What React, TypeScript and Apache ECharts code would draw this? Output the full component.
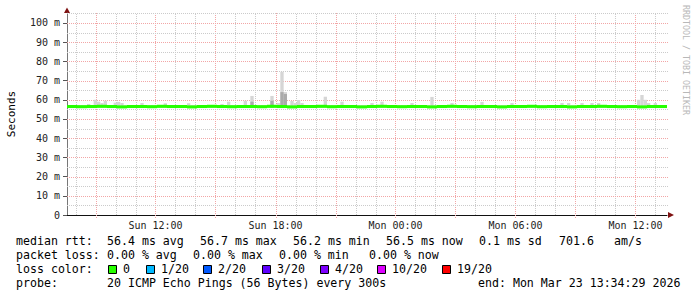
import React, { useEffect, useRef } from 'react';
import * as echarts from 'echarts';

// ---- time range (hours since Sun 00:00) ----
const START_HOUR = 7.575; // Sun 07:34:29
const END_HOUR = 37.575; // Mon 13:34:29
const Y_MAX = 105.2;

// ---- axis ticks ----
const xTickHours = [12, 18, 24, 30, 36];
const xTickLabels = ['Sun 12:00', 'Sun 18:00', 'Mon 00:00', 'Mon 06:00', 'Mon 12:00'];
const yTickValues = [0, 10, 20, 30, 40, 50, 60, 70, 80, 90, 100];
const yTickLabels = ['0', '10 m', '20 m', '30 m', '40 m', '50 m', '60 m', '70 m', '80 m', '90 m', '100 m'];

// ---- smoke (max ping per 10 min bin, ms) ----
const SMOKE_STEP = 1 / 6;
const SMOKE_FLOOR = 55.9;
const smokeTop = [
  57.2, 57.2, 57.2, 57.2, 57.2, 57.2, 57.8, 57.2, 60.0, 59.0, 58.3, 59.5, 57.2, 57.2, 58.5, 58.9, 58.3, 57.2, 57.2, 57.2,
  57.2, 57.2, 58.3, 57.2, 57.2, 57.2, 57.2, 57.2, 57.2, 58.2, 57.2, 57.2, 57.2, 57.2, 57.2, 57.2, 58.2, 57.2, 57.2, 57.2,
  57.2, 57.2, 57.2, 57.2, 57.2, 57.2, 57.8, 57.2, 59.0, 57.2, 57.2, 57.2, 57.2, 59.5, 57.2, 62.0, 57.2, 57.2, 57.2, 57.2,
  57.2, 62.0, 57.2, 58.3, 74.6, 64.0, 57.2, 59.4, 58.3, 59.9, 58.3, 57.2, 57.2, 57.2, 57.2, 57.2, 57.2, 61.6, 57.2, 57.2,
  57.2, 57.2, 59.0, 57.2, 57.2, 57.2, 57.2, 57.2, 57.2, 57.2, 57.2, 58.3, 57.2, 57.2, 59.0, 57.2, 57.2, 57.2, 57.2, 57.2,
  57.2, 57.2, 57.2, 58.3, 57.2, 57.2, 57.2, 57.2, 57.2, 61.5, 57.2, 57.2, 57.2, 57.2, 57.2, 58.3, 57.2, 57.2, 57.2, 57.2,
  57.2, 57.2, 57.2, 57.2, 58.9, 57.2, 57.2, 57.2, 57.2, 57.2, 57.2, 57.2, 57.2, 58.3, 57.2, 57.2, 57.2, 57.2, 57.2, 57.2,
  57.2, 57.2, 57.2, 57.2, 57.2, 57.2, 57.2, 57.2, 58.3, 57.2, 58.3, 57.2, 57.2, 57.2, 58.3, 57.2, 57.2, 58.3, 57.2, 58.3,
  57.2, 57.2, 57.2, 57.2, 57.2, 57.2, 57.2, 57.2, 57.2, 57.2, 57.2, 60.0, 62.5, 60.0, 58.3, 57.2, 58.3, 57.2, 57.2, 57.2,
];
// darker smoke core: [bin index, top]
const smokeCore: [number, number][] = [
  [64, 64.0],
  [65, 63.0],
  [55, 59.0],
  [61, 59.5],
];

// ---- median rtt per 30 min bin (ms) ----
const MEDIAN_STEP = 0.5;
const MEDIAN_HALF = 0.8;
const median = [
  56.5, 56.4, 56.5, 56.6, 56.5, 56.3, 56.5, 56.5, 56.4, 56.6,
  56.5, 56.5, 56.3, 56.5, 56.6, 56.5, 56.4, 56.5, 56.5, 56.4,
  56.6, 56.5, 56.3, 56.5, 56.5, 56.6, 56.4, 56.5, 56.5, 56.3,
  56.5, 56.6, 56.5, 56.4, 56.5, 56.5, 56.3, 56.5, 56.6, 56.5,
  56.4, 56.5, 56.5, 56.3, 56.5, 56.5, 56.6, 56.4, 56.5, 56.5,
  56.3, 56.5, 56.5, 56.6, 56.5, 56.4, 56.5, 56.3, 56.5, 56.5,
];

// ---- legend ----
const rttLine = ['median rtt:', '56.4 ms avg', '56.7 ms max', '56.2 ms min', '56.5 ms now', '0.1 ms sd', '701.6', 'am/s'];
const rttX = [16, 107, 200, 293, 386, 479, 559, 614];
const lossLine = ['packet loss:', '0.00 % avg', '0.00 % max', '0.00 % min', '0.00 % now'];
const lossX = [16, 107, 193, 279, 369];
const lossLabels = ['0', '1/20', '2/20', '3/20', '4/20', '10/20', '19/20'];
const lossColors = ['#26ff00', '#00b8ff', '#0059ff', '#5e00ff', '#7e00ff', '#dd00ff', '#ff0000'];
const lossBoxX = [108, 146, 203, 262, 320, 377, 442];
const probeText = '20 ICMP Echo Pings (56 Bytes) every 300s';
const endText = 'end: Mon Mar 23 13:34:29 2026';

const MONO = '"DejaVu Sans Mono", "Liberation Mono", monospace';

export default function App() {
  const ref = useRef<HTMLDivElement>(null);

  useEffect(() => {
    document.body.style.margin = '0';
    if (!ref.current) return;
    const chart = echarts.init(ref.current, undefined, { renderer: 'svg' });

    const vGrid: number[][] = [];
    for (let h = Math.ceil(START_HOUR); h <= END_HOUR; h++) vGrid.push([h, h % 3 === 0 ? 1 : 0]);
    const hGrid: number[][] = [];
    for (let v = 5; v <= Y_MAX; v += 5) hGrid.push([v, v % 10 === 0 ? 1 : 0]);

    const smokeData = smokeTop.map((v, j) => [START_HOUR + (j + 0.5) * SMOKE_STEP, SMOKE_FLOOR, v]);
    const coreData = smokeCore.map(([j, v]) => [START_HOUR + (j + 0.5) * SMOKE_STEP, SMOKE_FLOOR, v]);
    const medianData = median.map((v, k) => [START_HOUR + (k + 0.5) * MEDIAN_STEP, v - MEDIAN_HALF, v + MEDIAN_HALF]);

    const rectSeries = (name: string, data: number[][], step: number, fill: string, z: number) => ({
      type: 'custom',
      name,
      z,
      data,
      renderItem: (_p: any, api: any) => {
        const t = api.value(0);
        const a = api.coord([t - step / 2, api.value(2)]);
        const b = api.coord([t + step / 2, api.value(1)]);
        return {
          type: 'rect',
          shape: { x: a[0], y: a[1], width: b[0] - a[0], height: b[1] - a[1] },
          style: { fill },
        };
      },
    });

    const graphic: any[] = [];
    const txt = (x: number, y: number, text: string) =>
      graphic.push({
        type: 'text',
        x,
        y,
        style: { text, font: `11.6px ${MONO}`, fill: '#000', verticalAlign: 'middle', align: 'left' },
      });
    rttLine.forEach((s, i) => txt(rttX[i], 241, s));
    lossLine.forEach((s, i) => txt(lossX[i], 255, s));
    txt(16, 269, 'loss color:');
    lossLabels.forEach((s, i) => {
      graphic.push({
        type: 'rect',
        shape: { x: lossBoxX[i] + 0.5, y: 265.5, width: 8, height: 8 },
        style: { fill: lossColors[i], stroke: '#000', lineWidth: 1 },
      });
      txt(lossBoxX[i] + 15, 269, s);
    });
    txt(16, 283, 'probe:');
    txt(107, 283, probeText);
    txt(478, 283, endText);
    graphic.push({
      type: 'text',
      x: 11,
      y: 114,
      rotation: Math.PI / 2,
      style: { text: 'Seconds', font: `11px ${MONO}`, fill: '#000', align: 'center', verticalAlign: 'middle' },
    });
    graphic.push({
      type: 'text',
      x: 686,
      y: 60,
      rotation: -Math.PI / 2,
      style: { text: 'RRDTOOL / TOBI OETIKER', font: `8.3px ${MONO}`, fill: '#b8b8b8', align: 'center', verticalAlign: 'middle' },
    });
    graphic.push({
      type: 'polygon',
      shape: { points: [[64, 13], [70, 13], [67, 7.5]] },
      style: { fill: '#7f1212' },
    });
    graphic.push({
      type: 'polygon',
      shape: { points: [[668, 212], [668, 218], [674, 215]] },
      style: { fill: '#7f1212' },
    });

    chart.setOption({
      animation: false,
      backgroundColor: '#ffffff',
      grid: { left: 67, top: 13, width: 600, height: 202 },
      xAxis: {
        type: 'value',
        min: START_HOUR,
        max: END_HOUR,
        axisLine: { show: true, lineStyle: { color: '#111', width: 1 } },
        axisTick: { show: false },
        splitLine: { show: false },
        axisLabel: {
          customValues: xTickHours,
          formatter: (v: number) => {
            const i = xTickHours.findIndex((h) => Math.abs(h - v) < 1e-6);
            return i >= 0 ? xTickLabels[i] : '';
          },
          fontFamily: MONO,
          fontSize: 10,
          color: '#222',
          margin: 5,
        },
      },
      yAxis: {
        type: 'value',
        min: 0,
        max: Y_MAX,
        axisLine: { show: true, lineStyle: { color: '#777', width: 1 } },
        axisTick: { show: true, customValues: yTickValues, length: 4, lineStyle: { color: '#555' } },
        splitLine: { show: false },
        axisLabel: {
          customValues: yTickValues,
          formatter: (v: number) => {
            const i = yTickValues.findIndex((t) => Math.abs(t - v) < 1e-6);
            return i >= 0 ? yTickLabels[i] : '';
          },
          fontFamily: MONO,
          fontSize: 10,
          color: '#222',
          margin: 7,
        },
      },
      series: [
        {
          type: 'custom',
          name: 'vgrid',
          z: 1,
          silent: true,
          data: vGrid,
          renderItem: (_p: any, api: any) => {
            const h = api.value(0);
            const major = api.value(1) === 1;
            const a = api.coord([h, 0]);
            const b = api.coord([h, Y_MAX]);
            const x = Math.round(a[0]) + 0.5;
            return {
              type: 'line',
              shape: { x1: x, y1: a[1] + (major ? 3 : 0), x2: x, y2: b[1] },
              style: { stroke: major ? '#f2a6a6' : '#cbcbcb', lineWidth: 1, lineDash: [1, 1] },
            };
          },
        },
        {
          type: 'custom',
          name: 'hgrid',
          z: 1,
          silent: true,
          data: hGrid,
          renderItem: (_p: any, api: any) => {
            const v = api.value(0);
            const major = api.value(1) === 1;
            const a = api.coord([START_HOUR, v]);
            const b = api.coord([END_HOUR, v]);
            const y = Math.round(a[1]) + 0.5;
            return {
              type: 'line',
              shape: { x1: a[0], y1: y, x2: b[0] + 1, y2: y },
              style: { stroke: major ? '#f2a6a6' : '#cbcbcb', lineWidth: 1, lineDash: [1, 1] },
            };
          },
        },
        rectSeries('smoke', smokeData, SMOKE_STEP, '#d6d6d6', 2),
        rectSeries('smoke core', coreData, SMOKE_STEP, '#ababab', 3),
        rectSeries('median rtt', medianData, MEDIAN_STEP, '#26ff00', 4),
      ],
      graphic,
    });

    return () => chart.dispose();
  }, []);

  return <div ref={ref} style={{ width: 697, height: 297 }} />;
}
